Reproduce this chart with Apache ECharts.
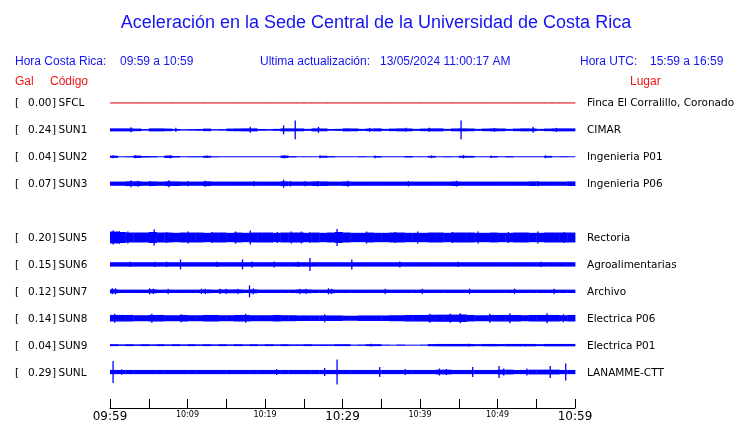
<!DOCTYPE html>
<html><head><meta charset="utf-8">
<script src="https://cdn.jsdelivr.net/npm/echarts@6/dist/echarts.min.js"></script>
<style>html,body{margin:0;padding:0;background:#fff}#c{width:740px;height:423px}</style>
</head><body><div id="c"></div>
<script>
// ---- data ----
const codes  = ['SFCL','SUN1','SUN2','SUN3','SUN5','SUN6','SUN7','SUN8','SUN9','SUNL'];
const galMax = ['0.00','0.24','0.04','0.07','0.20','0.15','0.12','0.14','0.04','0.29'];
const places = ['Finca El Corralillo, Coronado','CIMAR','Ingenieria P01','Ingenieria P06','Rectoria','Agroalimentarias','Archivo','Electrica P06','Electrica P01','LANAMME-CTT'];
const rowSlot = [0,1,2,3,5,6,7,8,9,10];           // SUN4 slot left empty
const tickText = {0:'09:59',10:'10:09',20:'10:19',30:'10:29',40:'10:39',50:'10:49',60:'10:59'};
const bigTicks = [0,30,60];

// per-minute envelope half-width of each trace (relative amplitude)
const env_SFCL = [0.5,0.5,0.5,0.5,0.5,0.5,0.5,0.5,0.5,0.5,0.5,0.5,0.5,0.5,0.5,0.5,0.5,0.5,0.5,0.5,0.5,0.5,0.5,0.5,0.5,0.5,0.5,0.5,0.5,0.5,0.5,0.5,0.5,0.5,0.5,0.5,0.5,0.5,0.5,0.5,0.5,0.5,0.5,0.5,0.5,0.5,0.5,0.5,0.5,0.5,0.5,0.5,0.5,0.5,0.5,0.5,0.5,0.5,0.5,0.5];
const env_SUN1 = [1.5,1.5,1.5,1.3,0.8,1.5,1.5,1.3,0.9,0.7,0.8,0.9,1.3,0.7,0.8,1.3,1.4,1.5,1.5,0.9,0.8,1.0,1.5,1.5,1.4,1.0,1.5,1.4,0.9,1.0,1.5,1.4,1.0,1.3,1.5,1.0,1.3,1.5,1.4,1.0,1.3,1.5,1.5,1.0,1.4,1.5,1.4,1.0,1.3,1.5,1.4,1.0,1.3,1.5,1.4,1.0,1.3,1.5,1.5,1.5];
const env_SUN2 = [1.1,0.5,0.6,1.2,0.8,0.7,0.5,1.2,0.8,0.5,0.6,0.6,1.0,0.6,0.5,0.5,0.5,0.5,0.5,0.5,0.5,0.5,1.2,0.7,0.5,0.5,0.5,1.0,0.7,0.5,0.5,0.5,0.6,0.5,0.8,0.5,0.5,0.5,0.8,0.5,0.5,0.9,0.5,0.6,0.5,1.0,0.9,0.5,0.5,0.8,0.5,0.7,0.5,0.5,0.5,0.5,0.9,0.5,0.6,0.5];
const env_SUN3 = [2.1,2.1,2.4,2.4,2.1,2.3,2.1,2.4,2.3,2.1,2.1,2.1,2.4,2.1,2.1,2.1,2.1,2.1,2.1,2.1,2.1,2.1,2.4,2.1,2.1,2.1,2.3,2.3,2.1,2.1,2.3,2.1,2.1,2.1,2.1,2.1,2.1,2.1,2.1,2.1,2.1,2.1,2.1,2.1,2.3,2.1,2.1,2.1,2.1,2.1,2.1,2.1,2.1,2.1,2.3,2.1,2.1,2.1,2.1,2.3];
const env_SUN5 = [6.0,5.5,5.0,5.0,5.0,5.5,5.0,5.0,4.7,5.0,5.0,5.0,4.7,5.0,5.0,4.7,5.0,4.7,5.0,5.0,5.0,4.7,5.0,5.0,5.0,4.7,5.0,4.7,5.0,5.5,5.0,4.7,4.7,5.0,4.7,4.7,5.0,5.0,4.7,4.7,4.7,5.0,5.0,4.7,5.0,5.0,5.0,4.7,4.7,5.0,4.7,4.7,5.0,5.0,4.7,4.7,5.0,5.0,5.0,5.0];
const env_SUN6 = [2.2,2.2,2.2,2.2,2.2,2.2,2.2,2.2,2.2,2.2,2.2,2.2,2.2,2.2,2.2,2.2,2.2,2.2,2.2,2.2,2.2,2.2,2.2,2.2,2.2,2.2,2.2,2.2,2.2,2.2,2.2,2.2,2.2,2.2,2.2,2.2,2.2,2.2,2.2,2.2,2.2,2.2,2.2,2.2,2.2,2.2,2.2,2.2,2.2,2.2,2.2,2.2,2.2,2.2,2.2,2.2,2.2,2.2,2.2,2.2];
const env_SUN7 = [2.0,1.7,1.7,1.7,1.7,2.0,1.7,1.7,1.7,1.7,1.7,1.7,1.9,1.7,1.9,1.9,1.9,1.7,2.0,1.7,1.7,1.7,1.7,1.7,1.9,1.9,1.7,1.7,1.9,1.7,1.7,1.7,1.7,1.7,1.7,1.7,1.7,1.7,1.7,1.7,1.7,1.7,1.7,1.7,1.7,1.7,1.7,1.7,1.7,1.7,1.7,1.7,1.7,1.7,1.7,1.7,1.7,1.7,1.7,1.7];
const env_SUN8 = [3.3,3.3,3.3,3.0,3.0,3.3,3.3,3.0,3.0,3.3,3.0,3.0,3.3,3.3,3.0,3.0,3.3,3.3,3.0,3.0,3.0,3.3,3.0,3.0,2.8,2.8,2.8,2.8,2.8,2.8,2.5,2.5,2.8,2.8,2.8,2.8,3.0,3.0,3.3,3.3,3.3,3.5,3.6,3.6,3.6,3.8,3.3,3.0,3.0,3.3,3.3,3.3,3.3,3.0,3.3,3.3,3.3,3.3,3.0,3.3];
const env_SUN9 = [1.0,0.8,1.0,0.8,1.0,0.8,1.0,0.8,1.0,0.8,1.0,0.8,1.0,0.8,1.0,0.8,1.0,0.8,1.0,0.8,1.0,0.8,1.0,0.8,0.8,1.0,0.8,0.8,0.8,1.0,1.0,0.6,0.7,1.0,1.0,0.6,0.5,0.7,0.5,0.5,0.6,1.1,1.2,1.2,1.2,1.2,1.2,1.0,1.2,1.2,1.1,1.2,1.2,1.2,1.2,1.0,1.2,1.2,1.2,1.2];
const env_SUNL = [2.1,2.1,2.1,2.1,2.1,2.1,2.1,2.1,2.1,2.1,2.1,2.1,2.1,2.1,2.1,2.1,2.1,2.1,2.1,2.1,2.1,2.1,2.1,2.1,2.1,2.1,2.1,2.1,2.1,2.1,2.1,2.1,2.1,2.1,2.1,2.1,2.1,2.1,2.1,2.1,2.1,2.1,2.4,2.4,2.1,2.1,2.1,2.1,2.1,2.1,2.4,2.4,2.1,2.1,2.4,2.4,2.4,2.4,2.1,2.1];

// isolated spikes: [minute, half-amplitude]
const spk_SFCL = [];
const spk_SUN1 = [[2.7,2.5],[8.5,2],[18.1,3],[22.4,4.5],[23.9,9.5],[26.9,3],[33.5,2],[38.2,2],[41.2,2],[45.3,9.5],[49.6,2],[54.6,3],[57.6,2]];
const spk_SUN2 = [[0.4,1.5],[3.3,1.5],[7.8,1.5],[12.5,1.3],[22.5,1.6],[27.1,1.6],[34.2,1.4],[41.5,1.4],[45.6,1.6],[49.2,1.3],[56.2,1.5]];
const spk_SUN3 = [[2.7,3.5],[3.6,3],[5.2,2.7],[7.6,3.5],[10.1,2.7],[12.3,3],[18.6,2.7],[22.4,4],[23.3,2.8],[25.2,2.7],[26.8,2.8],[30.7,3],[38.5,2.7],[44.7,3],[55.2,2.7]];
const spk_SUN5 = [[0.4,7],[1.2,6.5],[2.3,6],[5.7,8],[7.3,5.5],[10.1,6],[13.2,5.5],[16.2,6],[18.1,7],[21.6,5.5],[23.4,6],[24.7,6],[25.8,5.5],[29.3,8.5],[33.1,6],[36.8,5.5],[39.7,6],[44.2,5.5],[47.5,6],[51.4,5.5],[55.2,6],[58.6,5.5]];
const spk_SUN6 = [[2.6,2.7],[5.8,2.7],[7.3,2.7],[9.1,5],[13.8,2.7],[17.1,5],[18.3,3],[21.2,3],[24.3,2.7],[25.8,6.5],[31.2,5],[37.4,3],[44.9,2.7],[55.6,2.7]];
const spk_SUN7 = [[0.3,3],[0.7,3],[5.1,3],[5.6,2.7],[7.5,2.7],[11.8,2.7],[12.3,2.7],[14.2,2.7],[15.0,2.7],[16.5,2.7],[18.0,6],[18.5,3],[24.5,2.7],[25.3,2.7],[28.2,3],[28.6,2.7],[35.5,2.7],[40.3,2.7],[46.4,2.7],[52.2,2.7],[57.3,2.7]];
const spk_SUN8 = [[0.6,4.5],[5.4,4.5],[9.2,4],[17.5,4.5],[27.7,4],[41.3,4.5],[43.9,4.5],[45.2,5],[49,4.5],[51.6,5],[56.4,5],[58.5,4]];
const spk_SUN9 = [[33.7,1.3],[46.3,1.3],[53.6,1.3]];
const spk_SUNL = [[0.4,11],[1.5,2.7],[21.5,3],[27.7,4],[29.3,12.5],[34.8,5],[38.1,3],[42.5,3.5],[43.4,3],[46.8,5],[50.2,6],[50.8,3.5],[53.8,3.5],[56.8,6],[58.8,8.5]];

const envs = [env_SFCL,env_SUN1,env_SUN2,env_SUN3,env_SUN5,env_SUN6,env_SUN7,env_SUN8,env_SUN9,env_SUNL];
const spks = [spk_SFCL,spk_SUN1,spk_SUN2,spk_SUN3,spk_SUN5,spk_SUN6,spk_SUN7,spk_SUN8,spk_SUN9,spk_SUNL];
const traceColor = ['#e00000','#0000ff','#0000ff','#0000ff','#0000ff','#0000ff','#0000ff','#0000ff','#0000ff','#0000ff'];

// ---- chart ----
const ROW = 27;
const chart = echarts.init(document.getElementById('c'), null, {renderer:'canvas'});
const series = [];
envs.forEach((env, k) => {
  const slot = rowSlot[k];
  series.push({
    type:'custom', silent:true, animation:false,
    data: env.map((a, m) => [m, slot, a]),
    renderItem: (params, api) => {
      const m = api.value(0), yc = api.value(1) * ROW, a = api.value(2);
      const x0 = api.coord([m, 0])[0], x1 = api.coord([m + 1, 0])[0];
      const yt = api.coord([0, yc - a])[1], yb = api.coord([0, yc + a])[1];
      return {type:'rect', shape:{x:x0, y:Math.min(yt,yb), width:x1-x0+0.4, height:Math.max(1,Math.abs(yb-yt))}, style:{fill:traceColor[k]}};
    }
  });
  series.push({
    type:'custom', silent:true, animation:false,
    data: spks[k].map(s => [s[0], slot, s[1]]),
    renderItem: (params, api) => {
      const m = api.value(0), yc = api.value(1) * ROW, a = api.value(2);
      const p0 = api.coord([m, yc - a]), p1 = api.coord([m, yc + a]);
      return {type:'line', shape:{x1:p0[0], y1:p0[1], x2:p1[0], y2:p1[1]}, style:{stroke:traceColor[k], lineWidth:1.3}};
    }
  });
});

const graphics = [];
const blue = '#1414f0', red = '#f01414';
const hdr = (x, y, t, c, size, align, fam) => graphics.push({type:'text', x, y, style:{text:t, fill:c, font:(size||12)+'px '+(fam||'"Liberation Sans", Arial, sans-serif'), textAlign:align||'left', textVerticalAlign:'middle'}});
hdr(376, 23, 'Aceleración en la Sede Central de la Universidad de Costa Rica', blue, 18, 'center');
hdr(15, 62, 'Hora Costa Rica:', blue); hdr(120, 62, '09:59 a 10:59', blue);
hdr(260, 62, 'Ultima actualización:', blue); hdr(380, 62, '13/05/2024 11:00:17 AM', blue);
hdr(580, 62, 'Hora UTC:', blue); hdr(650, 62, '15:59 a 16:59', blue);
hdr(15, 82, 'Gal', red); hdr(50, 82, 'Código', red); hdr(630, 82, 'Lugar', red);
codes.forEach((c, k) => {
  const y = 103.5 + ROW * rowSlot[k];
  const f = '"DejaVu Sans", sans-serif';
  hdr(15, y, '[', '#000', 10.5, 'left', f);
  hdr(51.5, y, galMax[k], '#000', 10.5, 'right', f);
  hdr(52, y, ']', '#000', 10.5, 'left', f);
  hdr(58.5, y, c, '#000', 10.5, 'left', f);
  hdr(587, y, places[k], '#000', 10.5, 'left', f);
});

chart.setOption({
  animation:false,
  grid:{left:110, width:465, top:89.5, height:297, containLabel:false},
  xAxis:{type:'value', min:0, max:60, interval:5, offset:22.5, position:'bottom',
    axisLine:{onZero:false, lineStyle:{color:'#000', width:1}},
    axisTick:{inside:true, length:9, lineStyle:{color:'#000'}},
    splitLine:{show:false},
    axisLabel:{margin:3, verticalAlign:'top', fontFamily:'"DejaVu Sans", sans-serif', color:'#000',
      formatter: v => tickText[v] === undefined ? '' : (bigTicks.includes(v) ? '{b|' + tickText[v] + '}' : '{s|' + tickText[v] + '}'),
      rich:{b:{fontSize:12, fontFamily:'"DejaVu Sans", sans-serif', color:'#000', verticalAlign:'top'}, s:{fontSize:8, fontFamily:'"DejaVu Sans", sans-serif', color:'#000', verticalAlign:'top'}}}
  },
  yAxis:{type:'value', min:-13.5, max:283.5, inverse:true, show:false},
  series,
  graphic: graphics
});
</script></body></html>
